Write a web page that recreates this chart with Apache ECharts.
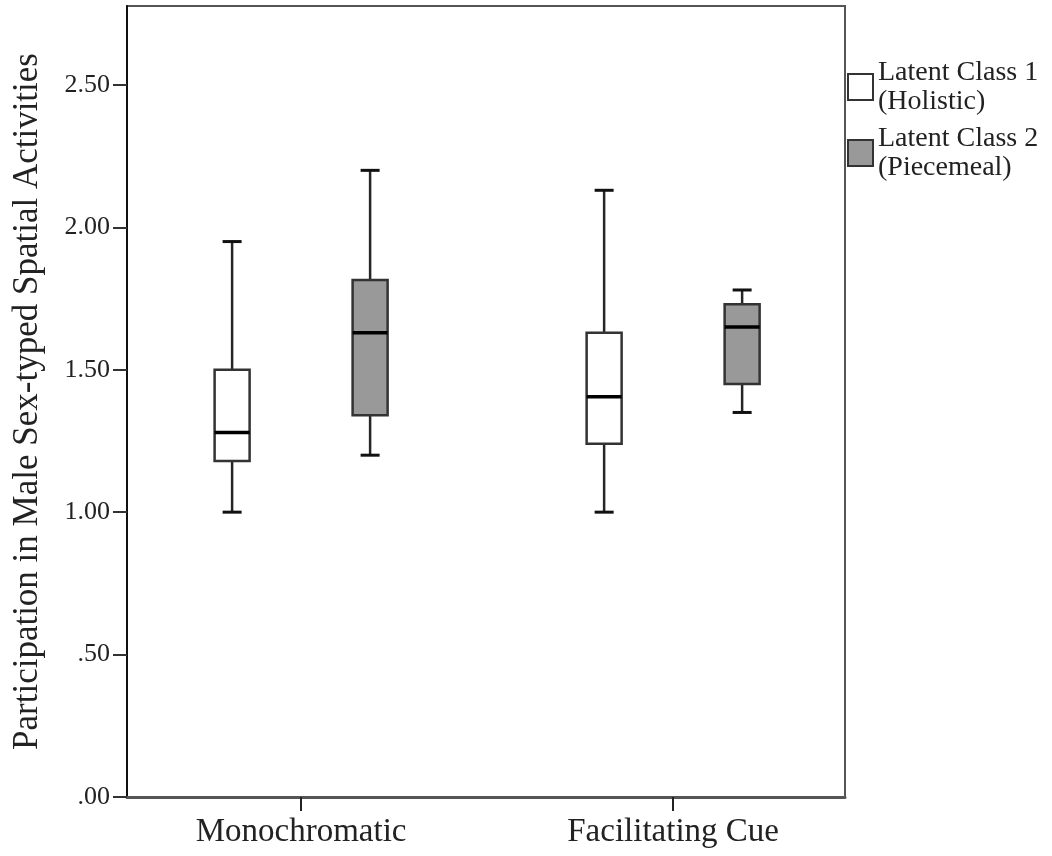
<!DOCTYPE html>
<html>
<head>
<meta charset="utf-8">
<script src="https://cdn.jsdelivr.net/npm/echarts@6/dist/echarts.min.js"></script>
<style>html,body{margin:0;padding:0;background:#fff}#c{width:1052px;height:856px}</style>
</head>
<body>
<div id="c"></div>
<script>
// Data
var categories = ['Monochromatic', 'Facilitating Cue'];
var seriesNames = ['Latent Class 1\n(Holistic)', 'Latent Class 2\n(Piecemeal)'];
// [lower whisker, Q1, median, Q3, upper whisker] per category
var class1Values = [
  [1.00, 1.18, 1.28, 1.50, 1.95],
  [1.00, 1.24, 1.405, 1.63, 2.13]
];
var class2Values = [
  [1.20, 1.34, 1.63, 1.815, 2.20],
  [1.35, 1.45, 1.65, 1.73, 1.78]
];
var yTicks = [0, 0.5, 1.0, 1.5, 2.0, 2.5];
var yTitle = 'Participation in Male Sex-typed Spatial Activities';

var FONT = '"Liberation Serif", "Times New Roman", serif';
var fills = ['#ffffff', '#999999'];
var offsetsPx = [-69, 69];

function makeRender(seriesIdx) {
  return function (params, api) {
    var ci = api.value(0);
    var lo = api.value(1), q1 = api.value(2), med = api.value(3), q3 = api.value(4), hi = api.value(5);
    var cx = api.coord([ci, 0])[0] + offsetsPx[seriesIdx];
    var yLo = api.coord([ci, lo])[1], yQ1 = api.coord([ci, q1])[1], yMed = api.coord([ci, med])[1];
    var yQ3 = api.coord([ci, q3])[1], yHi = api.coord([ci, hi])[1];
    var bw = 35, cw = 19;
    var lineStyle = {stroke: '#262626', lineWidth: 2.5};
    return {
      type: 'group',
      children: [
        {type: 'line', shape: {x1: cx, y1: yHi, x2: cx, y2: yQ3}, style: lineStyle},
        {type: 'line', shape: {x1: cx, y1: yQ1, x2: cx, y2: yLo}, style: lineStyle},
        {type: 'line', shape: {x1: cx - cw / 2, y1: yHi, x2: cx + cw / 2, y2: yHi}, style: {stroke: '#111', lineWidth: 3}},
        {type: 'line', shape: {x1: cx - cw / 2, y1: yLo, x2: cx + cw / 2, y2: yLo}, style: {stroke: '#111', lineWidth: 3}},
        {type: 'rect', shape: {x: cx - bw / 2, y: yQ3, width: bw, height: yQ1 - yQ3},
          style: {fill: fills[seriesIdx], stroke: '#333', lineWidth: 2.5}},
        {type: 'line', shape: {x1: cx - bw / 2, y1: yMed, x2: cx + bw / 2, y2: yMed}, style: {stroke: '#000', lineWidth: 3.5}}
      ]
    };
  };
}

function toData(vals) {
  return vals.map(function (v, i) { return [i].concat(v); });
}

var chart = echarts.init(document.getElementById('c'), null, {renderer: 'canvas'});
chart.setOption({
  backgroundColor: '#ffffff',
  animation: false,
  grid: {left: 127, right: 207, top: 6, bottom: 59, show: true, borderColor: '#555', borderWidth: 2, containLabel: false},
  legend: {
    orient: 'vertical', left: 847, top: 58, padding: 0, itemWidth: 25, itemHeight: 26, itemGap: 8,
    icon: 'rect',
    textStyle: {fontFamily: FONT, fontSize: 28, lineHeight: 29, color: '#222'},
    data: [
      {name: seriesNames[0], itemStyle: {color: fills[0], borderColor: '#333', borderWidth: 2}},
      {name: seriesNames[1], itemStyle: {color: fills[1], borderColor: '#333', borderWidth: 2}}
    ]
  },
  xAxis: {
    type: 'value', min: -0.468, max: 1.462,
    splitLine: {show: false},
    axisLine: {show: true, onZero: false, lineStyle: {color: '#555', width: 3}},
    axisTick: {show: true, length: 14, customValues: [0, 1], lineStyle: {color: '#222', width: 2}},
    axisLabel: {customValues: [0, 1], margin: 19, fontFamily: FONT, fontSize: 33, color: '#222',
      formatter: function (v) { return categories[Math.round(v)]; }}
  },
  yAxis: {
    type: 'value', min: 0, max: 2.777, interval: 0.5,
    name: yTitle, nameLocation: 'middle', nameRotate: 90, nameGap: 82,
    nameTextStyle: {fontFamily: FONT, fontSize: 35, color: '#222'},
    splitLine: {show: false},
    axisLine: {show: true, onZero: false, lineStyle: {color: '#111', width: 2}},
    axisTick: {show: true, length: 14, customValues: yTicks, lineStyle: {color: '#333', width: 2}},
    axisLabel: {customValues: yTicks, margin: 17, fontFamily: FONT, fontSize: 26, color: '#222',
      formatter: function (v) { return v.toFixed(2).replace(/^0/, ''); }}
  },
  series: [
    {name: seriesNames[0], type: 'custom', renderItem: makeRender(0), data: toData(class1Values),
      itemStyle: {color: fills[0], borderColor: '#333', borderWidth: 2}, encode: {x: 0, y: [1, 2, 3, 4, 5]}},
    {name: seriesNames[1], type: 'custom', renderItem: makeRender(1), data: toData(class2Values),
      itemStyle: {color: fills[1], borderColor: '#333', borderWidth: 2}, encode: {x: 0, y: [1, 2, 3, 4, 5]}}
  ]
});
</script>
</body>
</html>
